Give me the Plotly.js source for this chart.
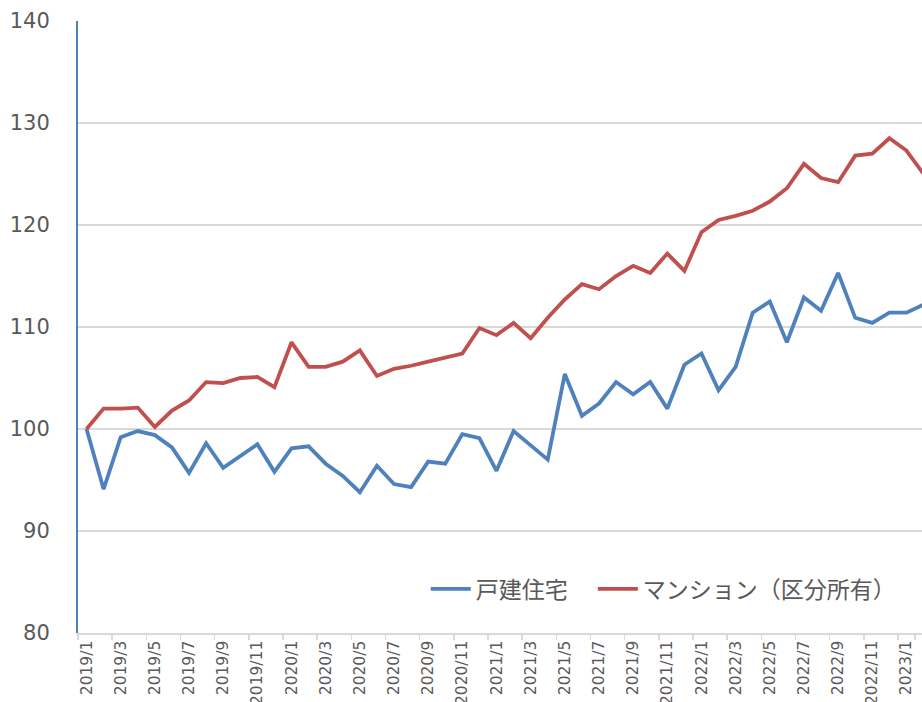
<!DOCTYPE html>
<html>
<head>
<meta charset="utf-8">
<script src="https://cdn.plot.ly/plotly-3.0.1.min.js"></script>
<style>
html,body{margin:0;padding:0;background:#fff;}
#chart{width:922px;height:702px;}
</style>
</head>
<body>
<div id="chart"></div>
<script>
const months = [
  "2019/1","2019/2","2019/3","2019/4","2019/5","2019/6","2019/7","2019/8","2019/9","2019/10","2019/11","2019/12",
  "2020/1","2020/2","2020/3","2020/4","2020/5","2020/6","2020/7","2020/8","2020/9","2020/10","2020/11","2020/12",
  "2021/1","2021/2","2021/3","2021/4","2021/5","2021/6","2021/7","2021/8","2021/9","2021/10","2021/11","2021/12",
  "2022/1","2022/2","2022/3","2022/4","2022/5","2022/6","2022/7","2022/8","2022/9","2022/10","2022/11","2022/12",
  "2023/1","2023/2"
];

const detachedHouse = [
  100, 94.1, 99.2, 99.8, 99.4, 98.2, 95.7, 98.6, 96.2, 97.3, 98.5, 95.8,
  98.1, 98.3, 96.6, 95.4, 93.8, 96.4, 94.6, 94.3, 96.8, 96.6, 99.5, 99.1,
  95.9, 99.8, 98.4, 97.0, 105.4, 101.3, 102.5, 104.6, 103.4, 104.6, 102.0, 106.3,
  107.4, 103.8, 106.1, 111.4, 112.5, 108.5, 112.9, 111.6, 115.3, 110.9, 110.4, 111.4,
  111.4, 112.2
];

const condominium = [
  100, 102.0, 102.0, 102.1, 100.2, 101.8, 102.8, 104.6, 104.5, 105.0, 105.1, 104.1,
  108.5, 106.1, 106.1, 106.6, 107.7, 105.2, 105.9, 106.2, 106.6, 107.0, 107.4, 109.9,
  109.2, 110.4, 108.9, 110.9, 112.7, 114.2, 113.7, 115.0, 116.0, 115.3, 117.2, 115.5,
  119.3, 120.5, 120.9, 121.4, 122.3, 123.6, 126.0, 124.6, 124.2, 126.8, 127.0, 128.5,
  127.3, 125.0
];

const tickLabels = [
  "2019/1","2019/3","2019/5","2019/7","2019/9","2019/11",
  "2020/1","2020/3","2020/5","2020/7","2020/9","2020/11",
  "2021/1","2021/3","2021/5","2021/7","2021/9","2021/11",
  "2022/1","2022/3","2022/5","2022/7","2022/9","2022/11",
  "2023/1"
];

const seriesNames = ["戸建住宅", "マンション（区分所有）"];
const yTicks = [80, 90, 100, 110, 120, 130, 140];

const textColor = "#595959";
const baseFont = "'DejaVu Sans', 'Noto Sans CJK JP', sans-serif";
const legendFont = {family: "'Noto Sans CJK JP', sans-serif", size: 23, color: textColor};

const traces = [
  {
    x: months, y: detachedHouse, name: seriesNames[0], type: "scatter", mode: "lines",
    line: {color: "#4f81bd", width: 3.8}, legend: "legend"
  },
  {
    x: months, y: condominium, name: seriesNames[1], type: "scatter", mode: "lines",
    line: {color: "#c0504d", width: 3.8}, legend: "legend2"
  }
];

const layout = {
  width: 922, height: 702,
  margin: {l: 78, r: 0, t: 21, b: 69, pad: 0},
  paper_bgcolor: "#ffffff", plot_bgcolor: "#ffffff",
  font: {family: baseFont, color: textColor},
  showlegend: true,
  legend: {
    orientation: "h", x: 0.412, y: 0.072, xanchor: "left", yanchor: "middle",
    font: legendFont, bgcolor: "rgba(0,0,0,0)", itemwidth: 40
  },
  legend2: {
    orientation: "h", x: 0.610, y: 0.072, xanchor: "left", yanchor: "middle",
    font: legendFont, bgcolor: "rgba(0,0,0,0)", itemwidth: 40
  },
  xaxis: {
    type: "category",
    range: [-0.5, 48.91],
    tickmode: "array", tickvals: tickLabels, ticktext: tickLabels,
    tickson: "boundaries",
    ticks: "outside", ticklen: 5, tickwidth: 1.5, tickcolor: "#d9d9d9",
    tickangle: -90,
    tickfont: {family: baseFont, size: 15.5, color: textColor},
    showline: true, linecolor: "#d9d9d9", linewidth: 1.5,
    showgrid: false, zeroline: false, fixedrange: true
  },
  yaxis: {
    range: [80, 140],
    tickmode: "array", tickvals: yTicks, ticktext: yTicks.map(String),
    ticks: "", ticklabelstandoff: 22,
    tickfont: {family: baseFont, size: 21, color: textColor},
    showline: true, linecolor: "#4f81bd", linewidth: 2,
    showgrid: true, gridcolor: "#d9d9d9", gridwidth: 1.3,
    zeroline: false, fixedrange: true
  }
};

Plotly.newPlot("chart", traces, layout, {displayModeBar: false, staticPlot: true});
</script>
</body>
</html>
